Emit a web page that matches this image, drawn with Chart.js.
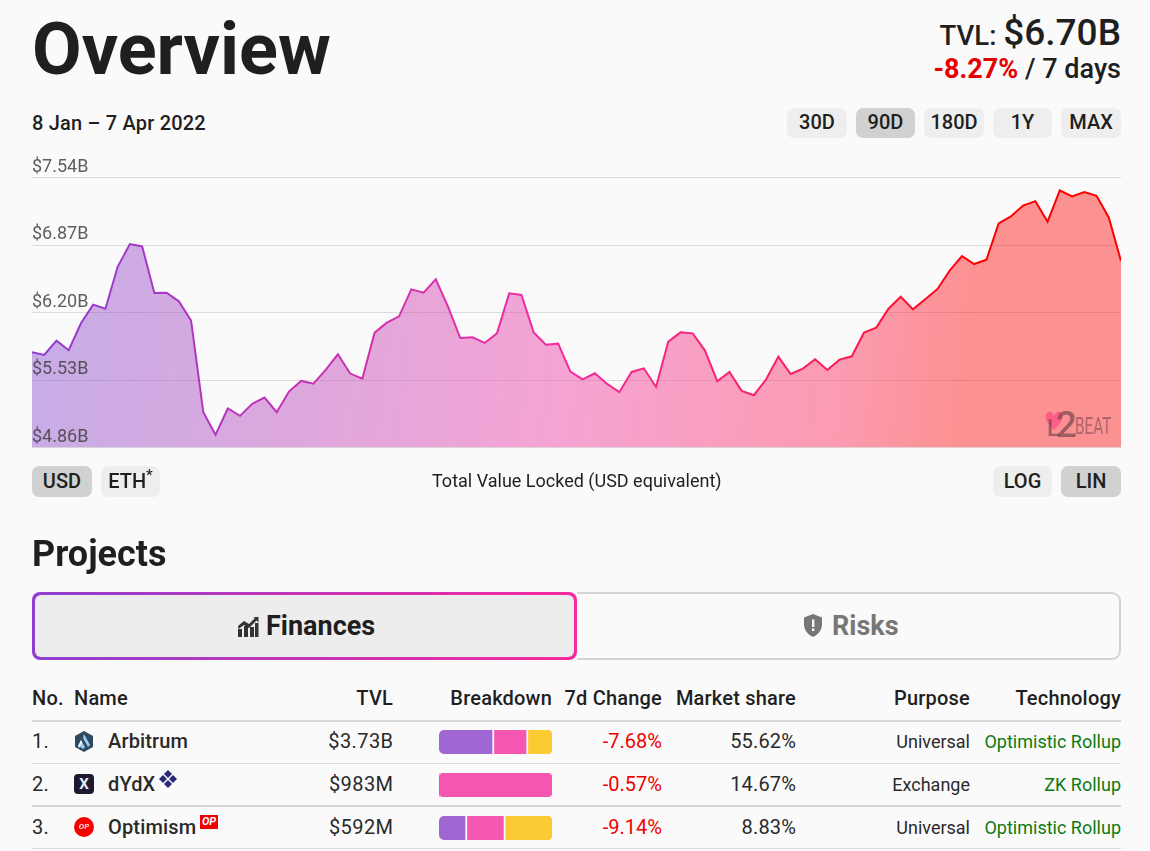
<!DOCTYPE html>
<html>
<head>
<meta charset="utf-8">
<title>Overview</title>
<script src="https://cdn.jsdelivr.net/npm/chart.js@4"></script>
<style>
html,body{margin:0;padding:0;background:#fafafa;}
body{position:relative;width:1150px;height:851px;overflow:hidden;font-family:Roboto,sans-serif;color:#1f1f1f;}
.abs{position:absolute;white-space:nowrap;}
.r{text-align:right;}
.btn{position:absolute;height:30px;line-height:29px;background:#eeeeee;border-radius:7px;text-align:center;font-size:20px;font-weight:500;}
.btn.on{background:#d1d1d1;}
.line{position:absolute;left:32px;width:1089px;height:1px;background:#dcdcdc;}
.th{position:absolute;top:686px;font-size:20px;font-weight:500;letter-spacing:.2px;white-space:nowrap;line-height:24px;}
.td{position:absolute;font-size:20px;line-height:24px;white-space:nowrap;color:#2a2a2a;letter-spacing:.15px;}
.nm{font-weight:500;}
.tvl{letter-spacing:.4px;margin-right:-.4px;}
.red{color:#f00000;letter-spacing:0;}
.grn{color:#0b7a10;font-size:18px;letter-spacing:0;}
.pur{font-size:18px;letter-spacing:0;}
canvas{position:absolute;display:block;}
</style>
</head>
<body>
<div class="abs" style="left:32px;top:7px;font-size:72px;font-weight:700;line-height:86px;">Overview</div>
<div class="abs r" style="right:29px;top:13px;line-height:40px;font-weight:500;font-size:27.5px;">TVL: <span style="font-size:37px;">$6.70B</span></div>
<div class="abs r" style="right:29px;top:53px;line-height:32px;font-weight:500;font-size:27px;"><span style="color:#e60000;font-weight:700;">-8.27%</span> / 7 days</div>
<div class="abs" style="left:32px;top:111px;font-size:20px;font-weight:500;letter-spacing:.2px;line-height:24px;">8 Jan – 7 Apr 2022</div>

<div class="btn" style="left:787px;top:108px;width:60px;">30D</div>
<div class="btn on" style="left:856px;top:108px;width:59px;">90D</div>
<div class="btn" style="left:924px;top:108px;width:60px;">180D</div>
<div class="btn" style="left:993px;top:108px;width:59px;">1Y</div>
<div class="btn" style="left:1061px;top:108px;width:60px;">MAX</div>

<canvas id="tvlChart" width="1089" height="320" style="left:32px;top:150px;width:1089px;height:320px;"></canvas>

<!-- watermark -->
<svg class="abs" style="left:1045px;top:411px;" width="18" height="19" viewBox="0 0 28 24" preserveAspectRatio="none"><path d="M14 24C6 17 1 13 1 7c0-4 3-6 6-6 3 0 5 2 7 5 2-3 4-5 7-5 3 0 6 2 6 6 0 6-5 10-13 17z" fill="#ff5c86"/></svg>
<div class="abs" style="left:1047px;top:418px;font-size:24px;font-weight:500;line-height:20px;color:rgba(120,70,80,.7);">L</div>
<div class="abs" style="left:1056px;top:407px;font-size:37px;font-weight:500;line-height:36px;color:rgba(120,70,80,.7);">2</div>
<div class="abs" style="left:1075px;top:414px;font-size:24px;line-height:24px;color:rgba(120,70,80,.6);transform:scaleX(.64);transform-origin:left;">BEAT</div>

<div class="btn on" style="left:32px;top:466px;width:60px;height:31px;line-height:30px;">USD</div>
<div class="btn" style="left:101px;top:466px;width:59px;height:31px;line-height:30px;">ETH<sup style="font-size:15px;line-height:0;">*</sup></div>
<div class="abs" style="left:432px;top:469px;font-size:18px;line-height:24px;">Total Value Locked (USD equivalent)</div>
<div class="btn" style="left:993px;top:466px;width:59px;height:31px;line-height:30px;">LOG</div>
<div class="btn on" style="left:1061px;top:466px;width:60px;height:31px;line-height:30px;">LIN</div>

<div class="abs" style="left:32px;top:533px;font-size:36px;font-weight:700;line-height:42px;">Projects</div>

<!-- tabs -->
<div class="abs" style="left:577px;top:592px;width:542px;height:64px;border:2px solid #d4d4d4;border-left:0;border-radius:0 9px 9px 0;"></div>
<div class="abs" style="left:32px;top:592px;width:545px;height:68px;border-radius:8px;background:linear-gradient(90deg,#8f3fd0,#f72a9f);"></div>
<div class="abs" style="left:35px;top:595px;width:539px;height:62px;border-radius:6px;background:#ededed;"></div>
<svg class="abs" style="left:237px;top:616px;" width="22" height="21" viewBox="0 0 22 21"><g fill="#333"><rect x="1" y="13" width="4" height="8"/><rect x="7" y="10" width="4" height="11"/><rect x="13" y="11" width="4" height="10"/><rect x="18" y="7" width="3.5" height="14"/><path d="M1 10 7 5l5 3 6-6-2-1h5.500v5.500l-2-2-7.500 7.500-5-3-5.500 4z"/></g></svg>
<div class="abs" style="left:266px;top:609px;font-size:27px;font-weight:700;line-height:34px;">Finances</div>
<svg class="abs" style="left:804px;top:614px;" width="18" height="23" viewBox="0 0 18 23"><path d="M9 0 18 3.500V10c0 6-3.500 10.500-9 13C3.500 20.500 0 16 0 10V3.500z" fill="#777"/><rect x="8" y="5.500" width="2.400" height="7.500" fill="#fafafa"/><rect x="8" y="14.500" width="2.400" height="2.500" fill="#fafafa"/></svg>
<div class="abs" style="left:832px;top:609px;font-size:27px;font-weight:700;line-height:34px;color:#777;">Risks</div>

<!-- table head -->
<div class="th" style="left:32px;">No.</div>
<div class="th" style="left:74px;">Name</div>
<div class="th r" style="right:757px;">TVL</div>
<div class="th r" style="right:598px;">Breakdown</div>
<div class="th r" style="right:488px;">7d Change</div>
<div class="th r" style="right:354px;">Market share</div>
<div class="th r" style="right:180px;">Purpose</div>
<div class="th r" style="right:29px;">Technology</div>
<div class="line" style="top:720px;height:2px;background:#d8d8d8;"></div>
<div class="line" style="top:763px;"></div>
<div class="line" style="top:805px;height:2px;background:#d8d8d8;"></div>
<div class="line" style="top:848px;"></div>

<!-- row 1 -->
<div class="td" style="left:32px;top:729px;">1.</div>
<svg class="abs" style="left:74px;top:731px;" width="20" height="21" viewBox="0 0 20 21"><path d="M10 0l9 5v11l-9 5-9-5V5z" fill="#2d4a63"/><path d="M10 3l6 11-2 2-5-9zM7 9l4 7-2 2-4-3z" fill="#9dcced"/><path d="M4 15l3-6 1 2-3 6z" fill="#fff"/></svg>
<div class="td nm" style="left:108px;top:729px;">Arbitrum</div>
<div class="td r tvl" style="right:757px;top:729px;">$3.73B</div>
<canvas id="breakdown0" width="113" height="24" style="left:439px;top:730px;width:113px;height:24px;"></canvas>
<div class="td r red" style="right:488px;top:729px;">-7.68%</div>
<div class="td r" style="right:354px;top:729px;">55.62%</div>
<div class="td r pur" style="right:180px;top:730px;">Universal</div>
<div class="td r grn" style="right:29px;top:730px;">Optimistic Rollup</div>

<!-- row 2 -->
<div class="td" style="left:32px;top:772px;">2.</div>
<div class="abs" style="left:74px;top:774px;width:20px;height:20px;border-radius:4px;background:#1c1a30;color:#e8e8f5;font-size:15px;font-weight:700;line-height:20px;text-align:center;">X</div>
<div class="td nm" style="left:108px;top:772px;">dYdX</div>
<svg class="abs" style="left:159px;top:770px;" width="18" height="18" viewBox="0 0 18 18"><path d="M9 0l4 4-4 4-4-4zM14 5l4 4-4 4-4-4zM4 5l4 4-4 4-4-4zM9 10l4 4-4 4-4-4z" fill="#2b2a78"/></svg>
<div class="td r tvl" style="right:757px;top:772px;">$983M</div>
<canvas id="breakdown1" width="113" height="24" style="left:439px;top:773px;width:113px;height:24px;"></canvas>
<div class="td r red" style="right:488px;top:772px;">-0.57%</div>
<div class="td r" style="right:354px;top:772px;">14.67%</div>
<div class="td r pur" style="right:180px;top:773px;">Exchange</div>
<div class="td r grn" style="right:29px;top:773px;">ZK Rollup</div>

<!-- row 3 -->
<div class="td" style="left:32px;top:815px;">3.</div>
<div class="abs" style="left:74px;top:817px;width:20px;height:20px;border-radius:50%;background:#f70000;color:#ffd0d0;font-size:8px;font-weight:700;font-style:italic;line-height:20px;text-align:center;">OP</div>
<div class="td nm" style="left:108px;top:815px;">Optimism</div>
<div class="abs" style="left:200px;top:815px;width:18px;height:14px;background:#f00000;color:#fff;font-size:11px;font-weight:700;font-style:italic;line-height:14px;text-align:center;">OP</div>
<div class="td r tvl" style="right:757px;top:815px;">$592M</div>
<canvas id="breakdown2" width="113" height="24" style="left:439px;top:816px;width:113px;height:24px;"></canvas>
<div class="td r red" style="right:488px;top:815px;">-9.14%</div>
<div class="td r" style="right:354px;top:815px;">8.83%</div>
<div class="td r pur" style="right:180px;top:816px;">Universal</div>
<div class="td r grn" style="right:29px;top:816px;">Optimistic Rollup</div>

<script>
// ===== Data =====
const days = [
  '8 Jan','9 Jan','10 Jan','11 Jan','12 Jan','13 Jan','14 Jan','15 Jan','16 Jan','17 Jan','18 Jan','19 Jan',
  '20 Jan','21 Jan','22 Jan','23 Jan','24 Jan','25 Jan','26 Jan','27 Jan','28 Jan','29 Jan','30 Jan','31 Jan',
  '1 Feb','2 Feb','3 Feb','4 Feb','5 Feb','6 Feb','7 Feb','8 Feb','9 Feb','10 Feb','11 Feb','12 Feb','13 Feb','14 Feb',
  '15 Feb','16 Feb','17 Feb','18 Feb','19 Feb','20 Feb','21 Feb','22 Feb','23 Feb','24 Feb','25 Feb','26 Feb','27 Feb','28 Feb',
  '1 Mar','2 Mar','3 Mar','4 Mar','5 Mar','6 Mar','7 Mar','8 Mar','9 Mar','10 Mar','11 Mar','12 Mar','13 Mar','14 Mar','15 Mar',
  '16 Mar','17 Mar','18 Mar','19 Mar','20 Mar','21 Mar','22 Mar','23 Mar','24 Mar','25 Mar','26 Mar','27 Mar','28 Mar','29 Mar','30 Mar','31 Mar',
  '1 Apr','2 Apr','3 Apr','4 Apr','5 Apr','6 Apr','7 Apr'
];
const tvl = [
  5.805,5.779,5.921,5.825,6.093,6.278,6.238,6.654,6.879,6.856,
  6.393,6.397,6.311,6.119,5.21,4.986,5.247,5.174,5.293,5.356,
  5.21,5.415,5.521,5.494,5.63,5.785,5.594,5.544,6.0,6.099,
  6.162,6.43,6.397,6.529,6.258,5.947,5.954,5.898,5.993,6.39,
  6.374,6.003,5.881,5.891,5.613,5.537,5.597,5.491,5.409,5.61,
  5.646,5.461,5.911,6.003,5.993,5.822,5.518,5.61,5.422,5.379,
  5.537,5.762,5.59,5.643,5.736,5.63,5.732,5.765,6.0,6.05,
  6.238,6.357,6.231,6.331,6.433,6.615,6.76,6.681,6.724,7.084,
  7.153,7.262,7.305,7.101,7.411,7.352,7.395,7.358,7.143,6.711
];
const tickValues = [4.86,5.53,6.20,6.87,7.54];
const tickLabels = ['$4.86B','$5.53B','$6.20B','$6.87B','$7.54B'];

const breakdownNames = ['Purple','Pink','Yellow'];
const breakdownColors = ['#a066d3','#f456b1','#facb32'];
const arbitrumBreakdown = [48.7,30.1,21.2];
const dydxBreakdown = [0,100,0];
const optimismBreakdown = [24.8,33.9,41.3];

// ===== TVL chart =====
function hGradient(ctx, area, stops){
  let g = ctx.createLinearGradient(area.left, area.top, area.right, area.top + 120);
  stops.forEach(s => g.addColorStop(s[0], s[1]));
  return g;
}

function initChart(){
  new Chart(document.getElementById('tvlChart'),{
    type:'line',
    data:{
      labels:days,
      datasets:[{
        data:tvl,
        fill:'start',
        pointRadius:0,
        borderWidth:2,
        tension:0,
        borderColor:c => {
          if(!c.chart.chartArea) return '#f00';
          return hGradient(c.chart.ctx, c.chart.chartArea, [[0,'#8c3dd0'],[0.5,'#f52a9e'],[0.76,'#fb1a55'],[0.87,'#ff0000'],[1,'#ff0000']]);
        },
        backgroundColor:c => {
          if(!c.chart.chartArea) return '#f99';
          return hGradient(c.chart.ctx, c.chart.chartArea, [[0,'rgba(126,65,204,.42)'],[0.5,'rgba(240,70,170,.48)'],[0.76,'rgba(254,43,89,.46)'],[0.87,'rgba(255,0,0,.42)'],[1,'rgba(255,0,0,.42)']]);
        }
      }]
    },
    options:{
      responsive:false,
      animation:false,
      devicePixelRatio:1,
      layout:{padding:{top:27.5,bottom:22.5,left:0,right:0}},
      plugins:{legend:{display:false},tooltip:{enabled:false}},
      scales:{
        x:{display:false,offset:false},
        y:{
          min:tickValues[0],
          max:tickValues[tickValues.length-1],
          afterBuildTicks:axis => { axis.ticks = tickValues.map(v => ({value:v})); },
          border:{display:false},
          grid:{color:'#dcdcdc',lineWidth:1,drawTicks:false},
          ticks:{
            mirror:true,
            padding:0,
            labelOffset:-10.5,
            z:1,
            color:'rgba(60,60,60,.82)',
            font:{family:'Roboto',size:18},
            callback:(v,i) => tickLabels[i]
          }
        }
      }
    }
  });
}

// ===== Breakdown bars =====
function initBreakdown(id, values){
  let used = values.map((v,i) => i).filter(i => values[i] > 0);
  new Chart(document.getElementById(id),{
    type:'bar',
    data:{
      labels:[''],
      datasets:values.map((v,i) => ({
        label:breakdownNames[i],
        data:[v],
        backgroundColor:breakdownColors[i],
        borderColor:'#fafafa',
        borderSkipped:false,
        borderWidth:{right:i === used[used.length-1] ? 0 : 2},
        borderRadius:{
          topLeft:i === used[0] ? 5 : 0,
          bottomLeft:i === used[0] ? 5 : 0,
          topRight:i === used[used.length-1] ? 5 : 0,
          bottomRight:i === used[used.length-1] ? 5 : 0
        },
        barPercentage:1,
        categoryPercentage:1
      }))
    },
    options:{
      indexAxis:'y',
      responsive:false,
      animation:false,
      devicePixelRatio:1,
      plugins:{legend:{display:false},tooltip:{enabled:false}},
      scales:{
        x:{display:false,stacked:true,min:0,max:100},
        y:{display:false,stacked:true}
      }
    }
  });
}

initChart();
initBreakdown('breakdown0', arbitrumBreakdown);
initBreakdown('breakdown1', dydxBreakdown);
initBreakdown('breakdown2', optimismBreakdown);
</script>
</body>
</html>
